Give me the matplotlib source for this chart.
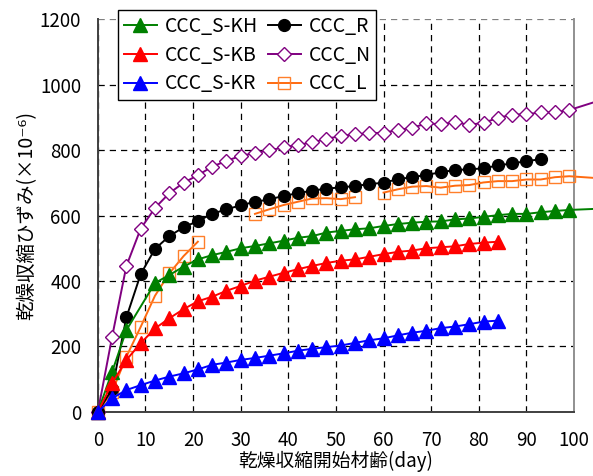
import numpy as np
import matplotlib
matplotlib.use('Agg')
import matplotlib.pyplot as plt

plt.rcParams['font.family'] = ['Noto Sans CJK JP', 'DejaVu Sans']

# 材齢(日)
days = list(range(0, 100, 3))
ext_day = 104  # 右端の外側まで続く近似線

# 各試験体の乾燥収縮ひずみ (×10^-6)
kh_days = [0, 3, 6] + list(range(12, 100, 3))
kh = [0, 123, 250, 394, 418, 444, 466, 479, 489, 500, 507, 515, 523, 532, 537, 548,
      553, 558, 561, 568, 574, 578, 581, 582, 588, 591, 596, 601, 605, 605, 610, 614, 617]
kh_ext = 620

kb_days = list(range(0, 85, 3))
kb = [0, 88, 159, 210, 255, 286, 314, 338, 352, 370, 385, 401, 413, 425, 436, 446,
      455, 462, 466, 474, 482, 489, 493, 500, 503, 506, 513, 517, 520]

kr_days = list(range(0, 85, 3))
kr = [0, 42, 67, 82, 96, 108, 118, 130, 144, 151, 159, 165, 172, 179, 187, 193,
      198, 203, 211, 219, 225, 234, 242, 248, 256, 261, 268, 276, 279]

r_days = list(range(0, 94, 3))
r = [0, 70, 289, 421, 498, 537, 564, 583, 605, 619, 631, 642, 649, 660, 668, 676,
     682, 686, 690, 696, 700, 711, 717, 724, 732, 739, 741, 744, 753, 759, 766, 772]

n = [0, 230, 446, 560, 623, 668, 700, 723, 749, 767, 782, 791, 799, 808, 816, 823,
     834, 843, 848, 851, 853, 861, 868, 881, 879, 885, 877, 883, 898, 908, 909, 915, 915, 922]
n_ext = 945

nan = np.nan
l = [0, 62, 169, 260, 355, 423, 476, 520, nan, nan, nan, 605, 619, 632, 642, 652,
     653, 650, 656, nan, 670, 680, 688, 690, 685, 691, 693, 701, 705, 705, 710, 710, 717, 720]
l_ext = 715

fig = plt.figure(figsize=(5.93, 4.76), dpi=100)
ax = fig.add_axes([0.165, 0.1345, 0.803, 0.8255])

lw = 1.4


def draw(x, y, label, color, marker, ms, mfc, mec, ext=None):
    x = list(x)
    y = list(y)
    nm = len(y)
    if ext is not None:
        x = x + [ext_day]
        y = y + [ext]
    return ax.plot(x, y, color=color, lw=lw, marker=marker, ms=ms, mfc=mfc, mec=mec,
                   mew=1.0, markevery=list(range(nm)), clip_on=False, label=label, zorder=3)[0]


h_l = draw(days, l, 'CCC_L', '#ff6a10', 's', 9, 'none', '#ff7f2a', l_ext)
h_n = draw(days, n, 'CCC_N', '#800080', 'D', 7, 'white', '#800080', n_ext)
h_r = draw(r_days, r, 'CCC_R', 'black', 'o', 8.5, 'black', 'black')
h_kh = draw(kh_days, kh, 'CCC_S-KH', '#008000', '^', 9.5, '#008000', '#008000', kh_ext)
h_kb = draw(kb_days, kb, 'CCC_S-KB', '#ff0000', '^', 9.5, '#ff0000', '#ff0000')
h_kr = draw(kr_days, kr, 'CCC_S-KR', '#0000ff', '^', 9.5, '#0000ff', '#0000ff')

ax.set_xlim(0, 100)
ax.set_ylim(0, 1200)
ax.set_xticks(range(0, 101, 10))
ax.set_yticks(range(0, 1201, 200))
ax.tick_params(axis='both', length=0, labelsize=13.5)
ax.tick_params(axis='x', pad=13)
ax.tick_params(axis='y', pad=12)

ax.grid(True, color='black', linestyle=(0, (5, 4)), linewidth=0.9)
ax.yaxis.get_gridlines()[-1].set_color('#808080')
ax.set_axisbelow(True)
for s in ['left', 'bottom']:
    ax.spines[s].set_color('#404040')
    ax.spines[s].set_linewidth(1.4)
ax.spines['top'].set_visible(False)
ax.spines['right'].set_color('#909090')
ax.spines['right'].set_linewidth(1.4)

ax.set_xlabel('乾燥収縮開始材齢(day)', fontsize=13.5, labelpad=0)
ax.set_ylabel('乾燥収縮ひずみ(×10⁻⁶)', fontsize=14, labelpad=2)

leg = ax.legend([h_kh, h_kb, h_kr, h_r, h_n, h_l],
                ['CCC_S-KH', 'CCC_S-KB', 'CCC_S-KR', 'CCC_R', 'CCC_N', 'CCC_L'],
                ncol=2, loc='upper left', bbox_to_anchor=(118 / 593, 1 - 10 / 476),
                bbox_transform=fig.transFigure, borderaxespad=0, fontsize=14,
                fancybox=False, framealpha=1, edgecolor='black', handlelength=1.7,
                handletextpad=0.4, columnspacing=0.5, labelspacing=0.4,
                borderpad=0.3)
leg.get_frame().set_linewidth(1.0)
leg.set_zorder(5)

fig.savefig('out.png', dpi=100)
